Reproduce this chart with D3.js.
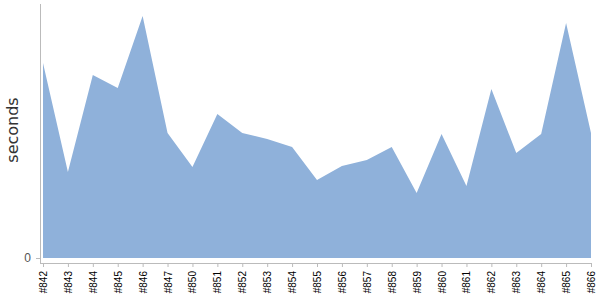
<!DOCTYPE html>
<html>
<head>
<meta charset="utf-8">
<script src="https://cdn.jsdelivr.net/npm/d3@7"></script>
<style>
    body { margin: 0; background: #fff; }
    svg { display: block; font-family: "DejaVu Sans", sans-serif; }
</style>
</head>
<body>
<svg width="600" height="300"></svg>
<script>
// build labels and build durations (seconds)
const builds = ['#842', '#843', '#844', '#845', '#846', '#847', '#850', '#851', '#852', '#853', '#854',
    '#855', '#856', '#857', '#858', '#859', '#860', '#861', '#862', '#863', '#864', '#865', '#866'];
const seconds = [195, 86, 183, 170, 242, 125, 91, 144, 125, 119, 111,
    78, 92, 98, 111, 65, 124, 72, 169, 105, 124, 235, 125];
const yTicks = [0];

const data = builds.map((b, i) => ({ build: b, value: seconds[i] }));

const svg = d3.select('svg');

const xScale = d3.scalePoint()
    .domain(builds)
    .range([43, 591]);

const yScale = d3.scaleLinear()
    .domain([0, 254])
    .range([258, 4]);

// area
const area = d3.area()
    .x(d => xScale(d.build))
    .y0(yScale(0))
    .y1(d => yScale(d.value));

svg.append('path')
    .datum(data)
    .attr('d', area)
    .attr('fill', '#8fb1da');

// y axis
const yAxis = svg.append('g')
    .attr('transform', 'translate(40,0)')
    .call(d3.axisLeft(yScale).tickValues(yTicks).tickSize(4).tickSizeOuter(0));
yAxis.select('.domain').remove();
yAxis.selectAll('.tick line').attr('stroke', '#bbb');
yAxis.selectAll('.tick text')
    .attr('font-size', 12)
    .attr('fill', '#555')
    .attr('dx', -2);

svg.append('line')
    .attr('x1', 40.5).attr('x2', 40.5)
    .attr('y1', 4).attr('y2', 263)
    .attr('stroke', '#bbb');

// x axis
const xAxis = svg.append('g')
    .attr('transform', 'translate(0,263)')
    .call(d3.axisBottom(xScale).tickSize(4).tickSizeOuter(0));
xAxis.select('.domain')
    .attr('stroke', '#bbb')
    .attr('d', 'M40,0.5H592');
xAxis.selectAll('.tick line').attr('stroke', '#bbb');
xAxis.selectAll('.tick text')
    .attr('font-size', 10)
    .attr('fill', '#000')
    .attr('transform', 'rotate(-90)')
    .attr('text-anchor', 'end')
    .attr('x', -8)
    .attr('y', 0)
    .attr('dy', '0.35em');

// y label
svg.append('text')
    .attr('transform', 'translate(18,130) rotate(-90)')
    .attr('text-anchor', 'middle')
    .attr('font-size', 16)
    .attr('fill', '#333')
    .text('seconds');
</script>
</body>
</html>
